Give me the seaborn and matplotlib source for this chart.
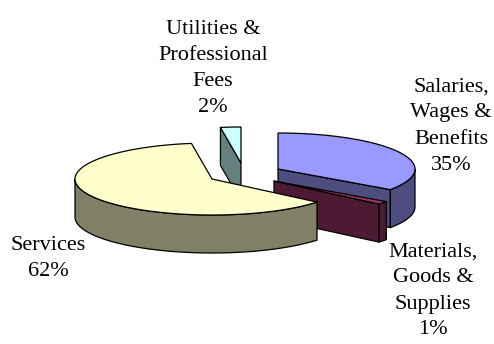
import numpy as np
import seaborn as sns
import matplotlib
matplotlib.use("Agg")
import matplotlib.pyplot as plt

categories = ["Salaries,\nWages &\nBenefits", "Materials,\nGoods &\nSupplies", "Services", "Utilities &\nProfessional\nFees"]
values = [34.7, 1.4, 61.5, 2.4]
top_colors = ["#9999ff", "#993366", "#ffffcc", "#ccffff"]
side_colors = ["#4d4d80", "#4d1a33", "#808066", "#668080"]
centers = [(278, 169), (274, 181), (212, 179), (241, 163)]
label_pos = [(451, 126), (433, 291), (48, 259), (213, 69)]

sns.set_theme(style="white")
plt.rcParams["font.family"] = ["Liberation Serif", "DejaVu Serif"]

A, B, DEPTH = 137, 36, 38
LW = 0.9
EDGE = "black"

fig = plt.figure(figsize=(4.94, 3.44), dpi=100, facecolor="white")
ax = fig.add_axes([0, 0, 1, 1])
ax.set_xlim(0, 494)
ax.set_ylim(344, 0)
ax.axis("off")

def rim(cx, cy, t0, t1, dy=0):
    t = np.radians(np.linspace(t0, t1, max(int(abs(t1 - t0)) * 2, 2)))
    return cx + A * np.sin(t), cy + dy - B * np.cos(t)

def face(xs, ys, color, z):
    ax.fill(xs, ys, facecolor=color, edgecolor=EDGE, linewidth=LW, joinstyle="round", zorder=z)

fractions = np.array(values) / sum(values)
stops = np.concatenate([[0], np.cumsum(fractions) * 360])

# painter's order: back slices first
for z, i in enumerate([3, 0, 1, 2]):
    cx, cy = centers[i]
    t0, t1 = stops[i], stops[i + 1]
    base = z * 10
    for t, visible in ((t0, np.sin(np.radians(t0)) < -1e-6), (t1, np.sin(np.radians(t1)) > 1e-6)):
        if visible:
            ox, oy = rim(cx, cy, t, t, 0)
            ox, oy = ox[0], oy[0]
            face([cx, ox, ox, cx], [cy, oy, oy + DEPTH, cy + DEPTH], side_colors[i], base + 1)
    lo, hi = max(t0, 90), min(t1, 270)
    if lo < hi:
        x, y = rim(cx, cy, lo, hi)
        face(np.r_[x, x[::-1]], np.r_[y, y[::-1] + DEPTH], side_colors[i], base + 2)
    x, y = rim(cx, cy, t0, t1)
    face(np.r_[cx, x], np.r_[cy, y], top_colors[i], base + 3)

for label, v, (lx, ly) in zip(categories, values, label_pos):
    ax.text(lx, ly, f"{label}\n{round(v)}%", ha="center", va="center",
            fontsize=16, color="black", linespacing=1.5, zorder=100)

fig.savefig("out.png", dpi=100, facecolor="white")
